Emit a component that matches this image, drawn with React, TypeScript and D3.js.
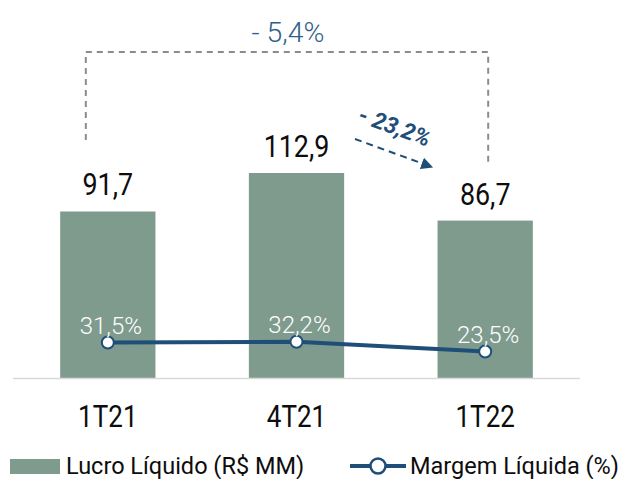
import React from "react";
import * as d3 from "d3";

const categories = ["1T21", "4T21", "1T22"];
const lucro = [91.7, 112.9, 86.7];
const lucroLabels = ["91,7", "112,9", "86,7"];
const margem = [31.5, 32.2, 23.5];
const margemLabels = ["31,5%", "32,2%", "23,5%"];
const legendLabels = ["Lucro Líquido (R$ MM)", "Margem Líquida (%)"];
const totalChange = "- 5,4%";
const qoqChange = "- 23,2%";

const W = 621;
const H = 479;
const FONT = "Roboto, 'DejaVu Sans', sans-serif";
const BAR = "#7f9b8e";
const NAVY = "#1f4e79";
const INK = "#0d0d0d";

function T(props: {
  x: number;
  y: number;
  size: number;
  sx?: number;
  fill?: string;
  anchor?: string;
  weight?: number;
  children: React.ReactNode;
}) {
  const { x, y, size, sx = 1, fill = INK, anchor = "middle", weight = 400, children } = props;
  return (
    <text
      transform={`translate(${x},${y}) scale(${sx},1)`}
      fontSize={size}
      fill={fill}
      textAnchor={anchor}
      fontWeight={weight}
    >
      {children}
    </text>
  );
}

export default function App() {
  const baseline = 378;
  const x = d3.scaleBand<string>().domain(categories).range([13, 580]).paddingInner(0.495).paddingOuter(0.25);
  const y = d3.scaleLinear().domain([0, 112.9]).range([baseline, 173]);
  const y2 = d3.scaleLinear().domain([0, 100]).range([baseline, baseline - 112.5]);
  const cx = (c: string) => (x(c) as number) + x.bandwidth() / 2;
  const line = d3.line<number>().x((_, i) => cx(categories[i])).y((d) => y2(d));

  const x0 = cx(categories[0]) - 22;
  const x2 = cx(categories[2]) + 3;

  return (
    <svg width={W} height={H} style={{ position: "absolute", left: 0, top: 0 }} fontFamily={FONT}>
      <defs>
        <marker id="ah" viewBox="0 0 10 10" refX="9" refY="5" markerWidth="6" markerHeight="6" orient="auto" markerUnits="strokeWidth">
          <path d="M0,0 L10,5 L0,10 z" fill={NAVY} />
        </marker>
      </defs>
      {categories.map((c, i) => (
        <rect key={c} x={x(c)} y={y(lucro[i])} width={x.bandwidth()} height={baseline - y(lucro[i])} fill={BAR} />
      ))}
      <line x1={13} x2={580} y1={baseline + 0.5} y2={baseline + 0.5} stroke="#d9d9d9" strokeWidth={1.5} />
      {categories.map((c, i) => (
        <T key={c} x={cx(c)} y={y(lucro[i]) - 16} size={32} sx={0.84}>
          {lucroLabels[i]}
        </T>
      ))}
      {categories.map((c) => (
        <T key={c} x={cx(c)} y={427} size={31} sx={0.84}>
          {c}
        </T>
      ))}
      <path d={line(margem) || ""} fill="none" stroke={NAVY} strokeWidth={4} />
      {categories.map((c, i) => (
        <circle key={c} cx={cx(c)} cy={y2(margem[i])} r={6} fill="#fff" stroke={NAVY} strokeWidth={2} />
      ))}
      {categories.map((c, i) => (
        <T key={c} x={cx(c) + 3} y={y2(margem[i]) - 9} size={24} fill="#fff" weight={300}>
          {margemLabels[i]}
        </T>
      ))}
      {/* bracket */}
      <path
        d={`M${x0},140 L${x0},52 L${x2},52 L${x2},163`}
        fill="none"
        stroke="#8c8c8c"
        strokeWidth={2}
        strokeDasharray="6,5"
      />
      <T x={288} y={42} size={27} sx={1.05} fill="#2e5f8a" weight={300}>
        {totalChange}
      </T>
      <line x1={355} y1={139} x2={432} y2={167} stroke={NAVY} strokeWidth={2} strokeDasharray="7,5" markerEnd="url(#ah)" />
      <text
        x={392}
        y={134}
        textAnchor="middle"
        fontSize={23}
        fontWeight="bold"
        fontStyle="italic"
        fill={NAVY}
        transform="rotate(20,392,134)"
      >
        {qoqChange}
      </text>
      {/* legend */}
      <rect x={10} y={459} width={50} height={15} fill={BAR} />
      <T x={66} y={474} size={23.5} anchor="start">{legendLabels[0]}</T>
      <line x1={350} x2={406} y1={466} y2={466} stroke={NAVY} strokeWidth={4} />
      <circle cx={378} cy={466} r={7.5} fill="#fff" stroke={NAVY} strokeWidth={2.5} />
      <T x={410} y={474} size={23.5} anchor="start">{legendLabels[1]}</T>
    </svg>
  );
}
